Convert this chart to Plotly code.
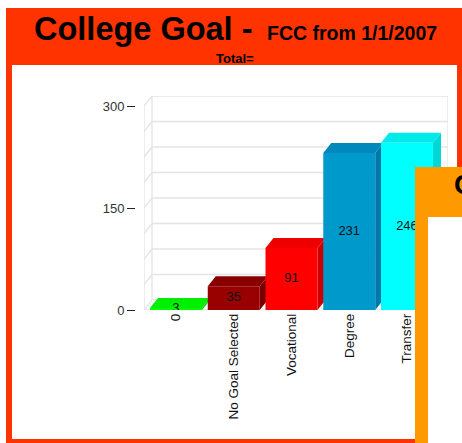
import plotly.graph_objects as go

# ---- data ----
categories = ["0", "No Goal Selected", "Vocational", "Degree", "Transfer"]
values = [3, 35, 91, 231, 246]
front_colors = ["#00FF00", "#990000", "#FF0000", "#0099CC", "#00FFFF"]
top_colors = ["#00EE00", "#880000", "#EE0000", "#0088BB", "#00EAEA"]
side_colors = ["#00CC00", "#770000", "#CC0000", "#0078AA", "#00D8D8"]
y_ticks = [0, 150, 300]
grid_values = [0, 37.5, 75, 112.5, 150, 187.5, 225, 262.5, 300]

W, H = 462, 443
FONT = "Liberation Sans, Arial, sans-serif"

# 3D geometry (axis units)
bar_w = 0.9
dx = 0.1385   # depth offset in x units (~8px)
dy = 14.7     # depth offset in y units (~10px)
x_lo, x_hi = -0.554, 4.71
y_lo, y_hi = 0, 300 + dy
front_left = x_lo
back_left = x_lo + dx
back_right = x_hi
front_right = x_hi - dx

idx = list(range(len(categories)))

fig = go.Figure()

# front faces
fig.add_trace(go.Bar(
    x=idx, y=values, width=bar_w,
    marker=dict(color=front_colors, line=dict(width=0)),
    hoverinfo="skip", showlegend=False,
))

# value labels
fig.add_trace(go.Scatter(
    x=idx, y=[v / 2 for v in values], mode="text",
    text=[str(v) for v in values], textposition="middle center",
    textfont=dict(family=FONT, size=13, color="#111"),
    hoverinfo="skip", showlegend=False,
))

shapes = []
# outer red panel and white inner panel
shapes.append(dict(type="rect", xref="paper", yref="paper", layer="below",
                   x0=6 / W, x1=1, y0=0, y1=1 - 8 / H,
                   fillcolor="#FF3300", line=dict(width=0)))
shapes.append(dict(type="rect", xref="paper", yref="paper", layer="below",
                   x0=12 / W, x1=457 / W, y0=1 - 439 / H, y1=1 - 65 / H,
                   fillcolor="#FFFFFF", line=dict(width=0)))

wall = dict(color="#E4E4E4", width=1.3)
# back wall gridlines + left wall diagonals
for g in grid_values:
    shapes.append(dict(type="line", xref="x", yref="y", layer="below",
                       x0=back_left, x1=back_right, y0=g + dy, y1=g + dy, line=wall))
    shapes.append(dict(type="line", xref="x", yref="y", layer="below",
                       x0=front_left, x1=back_left, y0=g, y1=g + dy, line=wall))
# left wall verticals, right back edge
shapes.append(dict(type="line", xref="x", yref="y", layer="below",
                   x0=front_left, x1=front_left, y0=0, y1=300, line=wall))
shapes.append(dict(type="line", xref="x", yref="y", layer="below",
                   x0=back_left, x1=back_left, y0=dy, y1=300 + dy, line=wall))
shapes.append(dict(type="line", xref="x", yref="y", layer="below",
                   x0=back_right, x1=back_right, y0=dy, y1=300 + dy, line=wall))
# floor
shapes.append(dict(type="line", xref="x", yref="y", layer="below",
                   x0=front_left, x1=front_right, y0=0, y1=0, line=wall))
shapes.append(dict(type="line", xref="x", yref="y", layer="below",
                   x0=front_right, x1=back_right, y0=0, y1=dy, line=wall))

# top and side faces of bars (drawn between gridlines and traces)
for i, v in enumerate(values):
    xl = i - bar_w / 2
    xr = i + bar_w / 2
    top = f"M {xl},{v} L {xl + dx},{v + dy} L {xr + dx},{v + dy} L {xr},{v} Z"
    side = f"M {xr},0 L {xr + dx},{dy} L {xr + dx},{v + dy} L {xr},{v} Z"
    shapes.append(dict(type="path", xref="x", yref="y", layer="between", path=side,
                       fillcolor=side_colors[i], line=dict(width=0)))
    shapes.append(dict(type="path", xref="x", yref="y", layer="between", path=top,
                       fillcolor=top_colors[i], line=dict(width=0)))

# overlapping orange panel at right
shapes.append(dict(type="rect", xref="paper", yref="paper", layer="above",
                   x0=415 / W, x1=1, y0=0, y1=1 - 167 / H,
                   fillcolor="#FF9900", line=dict(width=0)))
shapes.append(dict(type="rect", xref="paper", yref="paper", layer="above",
                   x0=428 / W, x1=1, y0=0, y1=1 - 217 / H,
                   fillcolor="#FFFFFF", line=dict(width=0)))

annotations = [
    dict(xref="paper", yref="paper", x=235 / W, y=1 - 29 / H,
         xanchor="center", yanchor="middle", showarrow=False,
         text="<b>College Goal - <span style='font-size:19.5px'> FCC from 1/1/2007</span></b>",
         font=dict(family=FONT, size=32.5, color="#000")),
    dict(xref="paper", yref="paper", x=235 / W, y=1 - 58 / H,
         xanchor="center", yanchor="middle", showarrow=False,
         text="<b>Total=</b>", font=dict(family=FONT, size=13, color="#000")),
    dict(xref="paper", yref="paper", x=452 / W, y=1 - 184 / H,
         xanchor="left", yanchor="middle", showarrow=False,
         text="<b>C</b>", font=dict(family=FONT, size=28, color="#000")),
]

fig.update_layout(
    width=W, height=H,
    margin=dict(l=0, r=0, t=0, b=0, autoexpand=False),
    paper_bgcolor="#FFFFFF", plot_bgcolor="rgba(0,0,0,0)",
    shapes=shapes, annotations=annotations,
    showlegend=False,
    xaxis=dict(domain=[144 / W, 448 / W], range=[x_lo, x_hi], automargin=False,
               tickvals=idx, ticktext=categories, tickangle=-90,
               showgrid=False, zeroline=False, showline=False, ticks="",
               tickfont=dict(family=FONT, size=13.5, color="#111"), fixedrange=True),
    yaxis=dict(domain=[(H - 310) / H, (H - 96) / H], range=[y_lo, y_hi],
               anchor="free", position=135 / W, automargin=False,
               tickvals=y_ticks, ticks="outside", ticklen=8, tickwidth=1,
               tickcolor="#222", showgrid=False, zeroline=False, showline=False,
               tickfont=dict(family=FONT, size=13, color="#333"), fixedrange=True),
    font=dict(family=FONT),
)

fig.write_html(
    "out.html",
    config={"displayModeBar": False},
    post_script=(
        "document.body.style.margin='0px';"
        "document.body.style.overflow='hidden';"
        "document.documentElement.style.overflow='hidden';"
    ),
)
